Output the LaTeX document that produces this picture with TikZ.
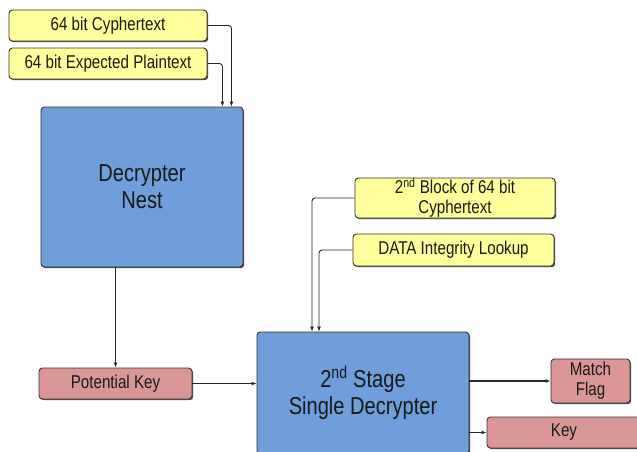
\documentclass[tikz,border=0pt]{standalone}
\usepackage{fontspec}
\setmainfont[FakeStretch=0.82]{Liberation Sans}
\usetikzlibrary{arrows.meta,shadows}
\definecolor{boxyellow}{HTML}{FFFF9C}
\definecolor{boxblue}{HTML}{6F9EDB}
\definecolor{boxred}{HTML}{D99694}
\definecolor{edge}{HTML}{333333}
\tikzset{
  basebox/.style={draw=edge, line width=0.9pt, rounded corners=3.5pt, inner sep=0pt,
    align=center, text=black!90,
    drop shadow={shadow xshift=1.2pt, shadow yshift=-1.2pt, fill=black!70, opacity=1}},
  smalltext/.style={font=\fontsize{18.5}{20}\selectfont},
  bigtext/.style={font=\fontsize{24.5}{27}\selectfont},
  inbox/.style={basebox, fill=boxyellow, smalltext},
  outbox/.style={basebox, fill=boxred, smalltext},
  procbox/.style={basebox, fill=boxblue, bigtext},
  link/.style={draw=black!85, line width=0.9pt, rounded corners=3pt, -{Latex[length=5pt,width=4pt]}},
  thicklink/.style={link, line width=2pt}
}
\begin{document}
\begin{tikzpicture}[x=1pt, y=-1pt]
\clip (0,0) rectangle (637,451);
\fill[white] (0,0) rectangle (637,451);

% input blocks feeding the nest
\node[inbox, minimum width=198pt, minimum height=31pt] (cyph) at (108,25.5) {64 bit Cyphertext};
\node[inbox, minimum width=198pt, minimum height=31pt] (plain) at (108,63.5) {64 bit Expected Plaintext};

% main decrypter nest
\node[procbox, minimum width=202pt, minimum height=160pt] (nest) at (142,187) {Decrypter\\Nest};

% inputs of the second stage
\node[inbox, minimum width=200pt, minimum height=40pt, font=\fontsize{18.5}{20}\selectfont] (block) at (455,198) {2\textsuperscript{nd} Block of 64 bit\\Cyphertext};
\node[inbox, minimum width=201pt, minimum height=32pt] (integ) at (453.5,250) {DATA Integrity Lookup};

% candidate key
\node[outbox, minimum width=153pt, minimum height=31pt] (potkey) at (115.5,383.5) {Potential Key};

% second stage
\node[procbox, minimum width=212pt, minimum height=122pt] (stage) at (363,393) {2\textsuperscript{nd} Stage\\Single Decrypter};

% outputs
\node[outbox, minimum width=79pt, minimum height=44pt] (match) at (590.5,381) {Match\\Flag};
\node[outbox, minimum width=154pt, minimum height=31pt] (key) at (564,432.5) {Key};

% connectors
\draw[link] (cyph.east) -| ([xshift=-12pt]nest.north east);
\draw[link] (plain.east) -| ([xshift=-21pt]nest.north east);
\draw[link] (potkey.north |- nest.south) -- (potkey.north);
\draw[link] (potkey.east) -- (potkey.east -| stage.west);
\draw[link] (block.west) -| ([xshift=-51pt]stage.north);
\draw[link] (integ.west) -| ([xshift=-44pt]stage.north);
\draw[thicklink] (match.west -| stage.east) -- (match.west);
\draw[link] (key.west -| stage.east) -- (key.west);
\end{tikzpicture}
\end{document}
